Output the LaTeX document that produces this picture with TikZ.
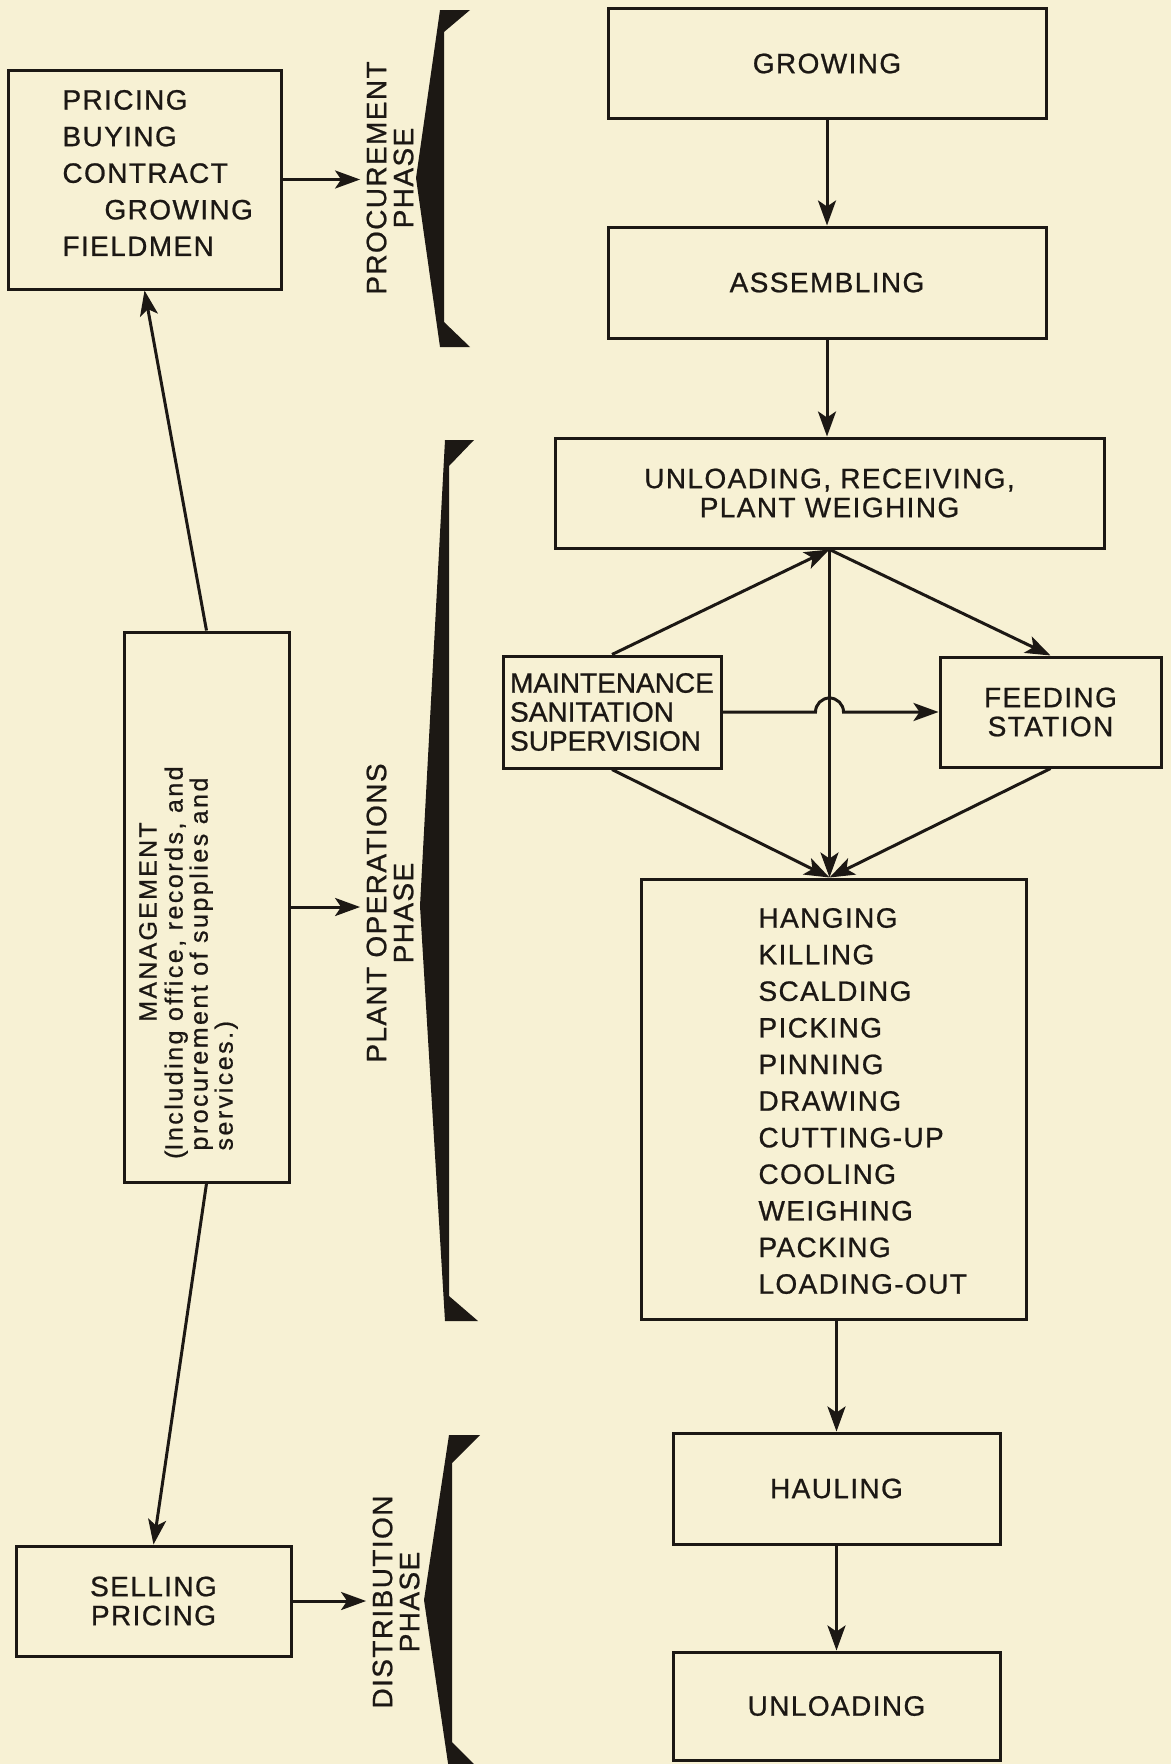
\documentclass[tikz,border=0pt]{standalone}
\usepackage{fontspec}
\setmainfont{Liberation Sans}[LetterSpace=5, FakeBold=0.8]
\newfontfamily\mgmtfont[LetterSpace=10, FakeBold=0.8]{Liberation Sans}
\newfontfamily\mgmtcaps[LetterSpace=9, FakeBold=0.8]{Liberation Sans}
\newfontfamily\tightfont[FakeBold=0.8]{Liberation Sans}
\usetikzlibrary{arrows.meta,calc}
\definecolor{paper}{RGB}{247,241,212}
\definecolor{ink}{RGB}{28,24,20}

\begin{document}
\begin{tikzpicture}
		[
		x=1pt, y=-1pt, color=ink, line width=3pt, font=\fontsize{28}{29}\selectfont,
		>={Stealth[length=25pt,width=18pt,inset=6pt]},
		%Kasten und Beschriftungen
		box/.style={draw, inner sep=0pt, align=center},
		list/.style={align=left, font=\fontsize{28}{36.6}\selectfont},
		phase/.style={rotate=90, align=center, inner sep=5pt, font=\fontsize{28}{27}\selectfont}
		]
		
		%Papier
		\fill[paper] (0,0) rectangle (1171,1764);
		\useasboundingbox (0,0) rectangle (1171,1764);
		\clip (0,0) rectangle (1171,1764);
		
		%Linke Spalte
		\node[box, minimum width=273, minimum height=219] (price) at (144.5,179.5) {};
		\node[list, inner sep=0pt, anchor=west] (pricetext) at (61,173) {PRICING\\BUYING\\CONTRACT\\\hspace*{42pt}GROWING\\FIELDMEN};
		\node[box, minimum width=165, minimum height=550] (mgmt) at (206.5,907) {};
		\node[rotate=90, inner sep=0pt, font=\mgmtcaps\fontsize{25}{25}\selectfont] (mgmttitle) at (148,922) {MANAGEMENT};
		\node[rotate=90, inner sep=0pt, align=left, anchor=north west, font=\mgmtfont\fontsize{25}{25}\selectfont] (mgmttext) at (163,1152) {\llap{(}Including office, records, and\\procurement of supplies and\\services.)};
		\node[box, minimum width=275, minimum height=110] (sell) at (153.5,1601) {SELLING\\PRICING};
		
		%Phasen
		\node[phase] (proc) at (390,178) {PROCUREMENT\\PHASE};
		\node[phase] (plant) at (390,913) {PLANT OPERATIONS\\PHASE};
		\node[phase] (dist) at (396,1602) {DISTRIBUTION\\PHASE};
		
		%Klammern
		\fill (440,10) -- (470,10) -- (444,32) -- (444,322) -- (470,347) -- (440,347) -- (416,178) -- cycle;
		\fill (445,440) -- (474,440) -- (449,466) -- (449,1296) -- (478,1321) -- (445,1321) -- (420,906) -- cycle;
		\fill (449,1435) -- (480,1435) -- (452,1463) -- (452,1742) -- (480,1770) -- (449,1770) -- (424,1600) -- cycle;
		
		%Rechte Spalte
		\node[box, minimum width=438, minimum height=110] (grow) at (827,63.5) {GROWING};
		\node[box, minimum width=438, minimum height=111] (asm) at (827,282.5) {ASSEMBLING};
		\node[box, minimum width=549, minimum height=110] (unl) at (829.5,493) {UNLOADING, RECEIVING,\\PLANT WEIGHING};
		\node[box, align=left, minimum width=218, minimum height=112, font=\tightfont\fontsize{28}{29}\selectfont] (maint) at (612,712) {MAINTENANCE\\SANITATION\\SUPERVISION};
		\node[box, minimum width=221, minimum height=110] (feed) at (1050.5,712) {FEEDING\\STATION};
		\node[box, minimum width=385, minimum height=440] (hang) at (833.5,1099) {};
		\node[list, inner sep=0pt, anchor=west] (hangtext) at (757,1101) {HANGING\\KILLING\\SCALDING\\PICKING\\PINNING\\DRAWING\\CUTTING-UP\\COOLING\\WEIGHING\\PACKING\\LOADING-OUT};
		\node[box, minimum width=327, minimum height=111] (haul) at (836.5,1488.5) {HAULING};
		\node[box, minimum width=327, minimum height=108] (unlout) at (836.5,1706) {UNLOADING};
		
		%Pfeile zu den Phasen
		\draw[->] (price.east) -- (price.east -| proc.north);
		\draw[->] (mgmt.east) -- (mgmt.east -| plant.north);
		\draw[->] (sell.east) -- (sell.east -| dist.north);
		
		%Leitung
		\draw[->] (mgmt.north) -- (price.south);
		\draw[->] (mgmt.south) -- (sell.north);
		
		%Ablauf
		\draw[->] (grow.south) -- (asm.north);
		\draw[->] (asm.south) -- (asm.south |- unl.north);
		\coordinate (meet) at (unl.south |- hang.north);
		\draw[->] (unl.south) -- (meet);
		\draw[->] (maint.north) -- (unl.south);
		\draw[->] (unl.south) -- (feed.north);
		\draw[->] (maint.south) -- (meet);
		\draw[->] (feed.south) -- (meet);
		%Bogen über die Senkrechte
		\draw[->] (maint.east) -- ($(maint.east -| unl.south)+(-14,0)$) arc (180:360:14) -- (feed.west);
		\draw[->] (haul.north |- hang.south) -- (haul.north);
		\draw[->] (haul.south) -- (unlout.north);
	\end{tikzpicture}
\end{document}
